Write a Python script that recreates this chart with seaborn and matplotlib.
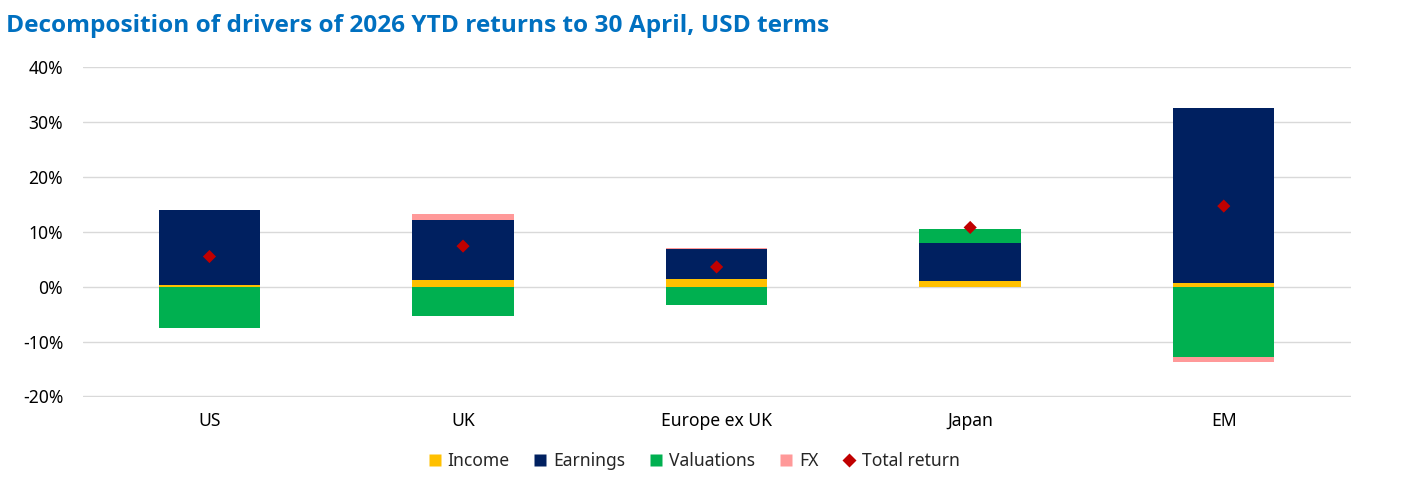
import numpy as np
import pandas as pd
import seaborn as sns
import matplotlib.pyplot as plt
from matplotlib.lines import Line2D

# Values (% contribution)
regions = ['US', 'UK', 'Europe ex UK', 'Japan', 'EM']
income = [0.3, 1.2, 1.4, 1.0, 0.6]
earnings = [13.6, 10.9, 5.5, 6.9, 31.9]
valuations = [-7.5, -5.4, -3.4, 2.6, -12.8]
fx = [0.0, 1.1, 0.2, 0.0, -0.9]
total_return = [5.5, 7.4, 3.6, 10.8, 14.7]

components = ['Income', 'Earnings', 'Valuations', 'FX']
colours = {'Income': '#FFC000', 'Earnings': '#002060',
           'Valuations': '#00B050', 'FX': '#FF9999'}

df = pd.DataFrame({'Region': regions, 'Income': income, 'Earnings': earnings,
                   'Valuations': valuations, 'FX': fx,
                   'Total return': total_return})

sns.set_theme(style='white')
plt.rcParams['font.family'] = ['Noto Sans', 'DejaVu Sans']

fig, ax = plt.subplots(figsize=(14.01, 4.82), dpi=100)
fig.subplots_adjust(left=0.059, right=0.964, top=0.861, bottom=0.177)

x = np.arange(len(regions))
pos_base = np.zeros(len(regions))
neg_base = np.zeros(len(regions))

# Stack positives upward and negatives downward
for comp in components:
    vals = df[comp].to_numpy()
    bottoms = np.where(vals >= 0, pos_base, neg_base)
    ax.bar(x, vals, bottom=bottoms, width=0.4, color=colours[comp],
           linewidth=0, zorder=2)
    pos_base += np.clip(vals, 0, None)
    neg_base += np.clip(vals, None, 0)

sns.scatterplot(data=df, x=x, y='Total return', marker='D', s=45,
                color='#C00000', edgecolor='none', zorder=3, ax=ax,
                legend=False)

ax.set_xlim(-0.5, len(regions) - 0.5)
ax.set_ylim(-20.05, 40.05)
ax.set_yticks(np.arange(-20, 41, 10))
ax.set_yticklabels([f'{v}%' for v in range(-20, 41, 10)])
ax.set_xticks(x)
ax.set_xticklabels(regions)
ax.tick_params(axis='both', length=0, labelsize=12.6, colors='black')
ax.tick_params(axis='x', pad=11)
ax.tick_params(axis='y', pad=14)
ax.set_xlabel('')
ax.set_ylabel('')
ax.grid(axis='y', color='#D9D9D9', linewidth=1, zorder=0)
ax.set_axisbelow(True)
for sp in ax.spines.values():
    sp.set_visible(False)

fig.text(0.004, 0.947, 'Decomposition of drivers of 2026 YTD returns to 30 April, USD terms',
         fontsize=17.6, fontweight='bold', color='#0070C0', va='center',
         family=['Open Sans', 'DejaVu Sans'])

handles = [Line2D([], [], marker='s', linestyle='none', markersize=9,
                  markerfacecolor=colours[c], markeredgecolor='none', label=c)
           for c in components]
handles.append(Line2D([], [], marker='D', linestyle='none', markersize=7,
                      markerfacecolor='#C00000', markeredgecolor='none',
                      label='Total return'))
fig.legend(handles=handles, loc='center', bbox_to_anchor=(0.493, 0.043),
           ncol=5, frameon=False, fontsize=12.6, handletextpad=0.0,
           columnspacing=1.0, handlelength=1.5)

fig.savefig('out.png', dpi=100)
